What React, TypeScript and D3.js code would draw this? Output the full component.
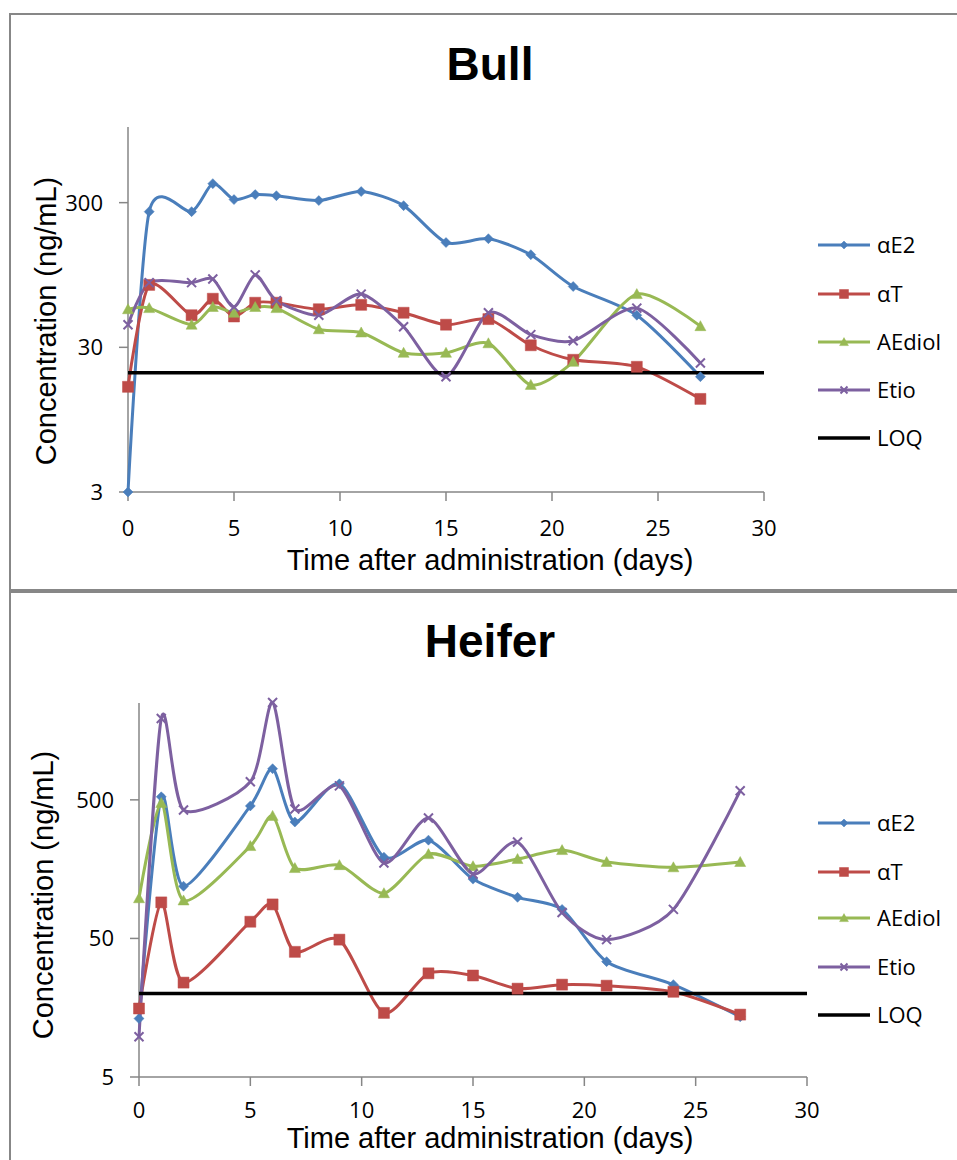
import * as d3 from "d3";
import React from "react";

const seriesNames = ["αE2", "αT", "AEdiol", "Etio"];
const seriesColors = ["#4A7EBB", "#BE4B48", "#98B954", "#7D60A0"];
const seriesShapes = ["diamond", "square", "triangle", "x"];
const loqValue = 20;
const xTicks = [0, 5, 10, 15, 20, 25, 30];

// Bull
const bullDays = [0, 1, 3, 4, 5, 6, 7, 9, 11, 13, 15, 17, 19, 21, 24, 27];
const bullAE2 = [3, 260, 260, 406, 315, 341, 335, 310, 358, 286, 159, 169, 131, 79, 50, 18.8];
const bullAT = [16, 81, 50, 65, 49, 61, 61, 55, 59, 52, 43, 47, 31, 24.6, 22, 13.2];
const bullAEdiol = [55, 56, 43, 57, 52, 57, 56, 40, 38, 27.5, 27.5, 32, 16.5, 23.8, 70, 42];
const bullEtio = [43, 84, 84, 89, 57, 95, 63, 50, 70, 41.6, 18.8, 52, 36.7, 33.3, 56, 23.4];
const bullYTicks = [3, 30, 300];

// Heifer
const heiferDays = [0, 1, 2, 5, 6, 7, 9, 11, 13, 15, 17, 19, 21, 24, 27];
const heiferAE2 = [13.2, 526, 119, 452, 839, 346, 653, 193, 256, 134, 99, 81, 34, 23.2, 13.6];
const heiferAT = [15.6, 91, 24, 66, 88, 40, 49, 14.5, 28, 27, 21.7, 23.2, 22.8, 20.6, 14.1];
const heiferAEdiol = [97.5, 475, 94, 232, 383, 161, 169, 106, 203, 166, 187, 217, 178, 163, 178];
const heiferEtio = [9.75, 1932, 423, 675, 2522, 430, 631, 175, 370, 146, 248, 77, 49, 81, 581];
const heiferYTicks = [5, 50, 500];

const axisColor = "#868686";
const labelFont = "'Liberation Sans', Arial, sans-serif";
const tickFont = "'Open Sans', sans-serif";

function markerPath(shape: string, s: number) {
  if (shape === "diamond") return `M0,${-s}L${s},0L0,${s}L${-s},0Z`;
  if (shape === "square") return `M${-s},${-s}H${s}V${s}H${-s}Z`;
  if (shape === "triangle") return `M0,${-s * 1.1}L${s * 1.1},${s * 0.9}L${-s * 1.1},${s * 0.9}Z`;
  return `M${-s},${-s}L${s},${s}M${-s},${s}L${s},${-s}`;
}

const markerSize = [5, 5.5, 5, 4.5];

function Marker({ shape, color, x, y, size }: { shape: string, color: string, x: number, y: number, size: number }) {
  const isX = shape === "x";
  return (
    <path
      d={markerPath(shape, size)}
      transform={`translate(${x},${y})`}
      fill={isX ? "none" : color}
      stroke={color}
      strokeWidth={isX ? 2 : 0.5}
    />
  );
}

type PanelT = {
  title: string,
  titleY: number,
  days: number[],
  series: number[][],
  yDomain: [number, number],
  yTicks: number[],
  left: number, right: number, top: number, bottom: number,
  yLabelX: number, yLabelY: number,
  xLabelY: number, xTickOffset: number,
  legendY: number[],
}

function Panel(p: PanelT) {
  const x = d3.scaleLinear().domain([0, 30]).range([p.left, p.right]);
  const y = d3.scaleLog().domain(p.yDomain).range([p.bottom, p.top]);
  // Excel "smoothed line", a bit tighter than plain Catmull-Rom
  const line = d3.line<[number, number]>()
    .x(d => x(d[0]))
    .y(d => y(d[1]))
    .curve(d3.curveCardinal.tension(0.25));

  const pts = p.series.map(vals => p.days.map((d, i) => [d, vals[i]] as [number, number]));

  return (
    <g>
      <text x={490} y={p.titleY} textAnchor="middle" fontFamily={labelFont} fontWeight="bold" fontSize={46}>{p.title}</text>

      {/* axes */}
      <line x1={p.left} x2={p.left} y1={p.top} y2={p.bottom} stroke={axisColor} strokeWidth={1.5} />
      <line x1={p.left} x2={p.right} y1={p.bottom} y2={p.bottom} stroke={axisColor} strokeWidth={1.5} />
      {p.yTicks.map(t => (
        <g key={t}>
          <line x1={p.left - 9} x2={p.left} y1={y(t)} y2={y(t)} stroke={axisColor} strokeWidth={1.5} />
          <text x={p.left - 25} y={y(t)} dy="0.36em" textAnchor="end" fontFamily={tickFont} fontSize={22}>{t}</text>
        </g>
      ))}
      {xTicks.map(t => (
        <g key={t}>
          <line x1={x(t)} x2={x(t)} y1={p.bottom} y2={p.bottom + 9} stroke={axisColor} strokeWidth={1.5} />
          <text x={x(t)} y={p.bottom + p.xTickOffset} dy="0.36em" textAnchor="middle" fontFamily={tickFont} fontSize={22}>{t}</text>
        </g>
      ))}

      <text transform={`translate(${p.yLabelX},${p.yLabelY}) rotate(-90)`} textAnchor="middle" fontFamily={labelFont} fontSize={29}>Concentration (ng/mL)</text>
      <text x={490} y={p.xLabelY} textAnchor="middle" fontFamily={labelFont} fontSize={29}>Time after administration (days)</text>

      {/* series lines */}
      {pts.map((s, i) => (
        <path key={i} d={line(s) || ""} fill="none" stroke={seriesColors[i]} strokeWidth={3} />
      ))}
      <line x1={x(0)} x2={x(30)} y1={y(loqValue)} y2={y(loqValue)} stroke="#000" strokeWidth={3.5} />
      {pts.map((s, i) => s.map((d, j) => (
        <Marker key={`${i}-${j}`} shape={seriesShapes[i]} color={seriesColors[i]} x={x(d[0])} y={y(d[1])} size={markerSize[i]} />
      )))}

      {/* legend */}
      {seriesNames.map((n, i) => (
        <g key={n} transform={`translate(818,${p.legendY[i]})`}>
          <line x1={0} x2={52} y1={0} y2={0} stroke={seriesColors[i]} strokeWidth={3} />
          <Marker shape={seriesShapes[i]} color={seriesColors[i]} x={26} y={0} size={markerSize[i] - 1} />
          <text x={59} y={0} dy="0.36em" fontFamily={tickFont} fontSize={22}>{n}</text>
        </g>
      ))}
      <g transform={`translate(818,${p.legendY[4]})`}>
        <line x1={0} x2={52} y1={0} y2={0} stroke="#000" strokeWidth={3.5} />
        <text x={59} y={0} dy="0.36em" fontFamily={tickFont} fontSize={22}>LOQ</text>
      </g>
    </g>
  );
}

export default function App() {
  return (
    <div style={{ position: "absolute", left: 0, top: 0, width: 957, height: 1160, background: "#fff" }}>
      <svg width={957} height={1160} style={{ display: "block" }}>
        <rect x={0} y={0} width={957} height={1160} fill="#fff" />
        <rect x={10} y={14} width={960} height={576} fill="none" stroke="#878787" strokeWidth={2} />
        <rect x={10} y={592} width={960} height={600} fill="none" stroke="#878787" strokeWidth={2} />
        <Panel
          title="Bull" titleY={80}
          days={bullDays}
          series={[bullAE2, bullAT, bullAEdiol, bullEtio]}
          yDomain={[3, 1000]} yTicks={bullYTicks}
          left={128} right={764} top={127} bottom={492}
          yLabelX={56} yLabelY={321} xLabelY={570} xTickOffset={36}
          legendY={[245, 294, 342, 390, 438]}
        />
        <Panel
          title="Heifer" titleY={657}
          days={heiferDays}
          series={[heiferAE2, heiferAT, heiferAEdiol, heiferEtio]}
          yDomain={[5, 2500]} yTicks={heiferYTicks}
          left={139} right={807} top={703} bottom={1077}
          yLabelX={53} yLabelY={895} xLabelY={1148} xTickOffset={33}
          legendY={[823, 872, 918, 967, 1015]}
        />
      </svg>
    </div>
  );
}
